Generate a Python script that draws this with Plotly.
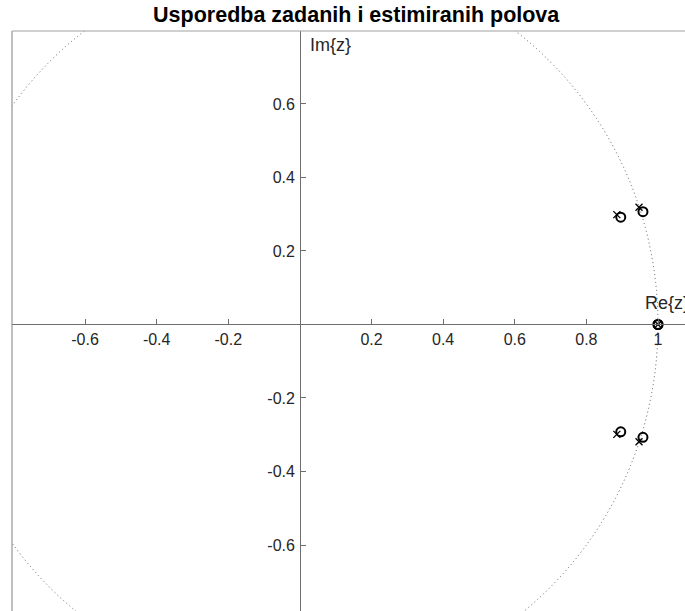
import plotly.graph_objects as go

# Given poles (x) and estimated poles (o)
poles_given_re = [0.885, 0.885, 0.947, 0.947, 1.0]
poles_given_im = [0.299, -0.299, 0.319, -0.319, 0.0]
poles_est_re = [0.896, 0.896, 0.958, 0.958, 1.0, 1.0]
poles_est_im = [0.292, -0.292, 0.307, -0.307, 0.0, 0.0]

x_ticks = [-0.6, -0.4, -0.2, 0.2, 0.4, 0.6, 0.8, 1]
x_tick_text = ["-0.6", "-0.4", "-0.2", "0.2", "0.4", "0.6", "0.8", "1"]
y_ticks = [-0.6, -0.4, -0.2, 0.2, 0.4, 0.6]
y_tick_text = ["-0.6", "-0.4", "-0.2", "0.2", "0.4", "0.6"]

x_range = [-0.804, 1.0754]
y_range = [-0.7796, 0.7986]

axis_col = "#6e6e6e"
font_col = "#262626"
FONT = "Liberation Sans, Arial, sans-serif"

fig = go.Figure()

# invisible helper trace so the label-only y axis is drawn
fig.add_trace(go.Scatter(
    x=poles_est_re, y=poles_est_im, mode="markers", yaxis="y2",
    marker=dict(size=1, opacity=0), showlegend=False, hoverinfo="skip"))

fig.add_trace(go.Scatter(
    x=poles_est_re, y=poles_est_im, mode="markers",
    marker=dict(symbol="circle-open", size=9, color="black",
                line=dict(width=2, color="black")),
    showlegend=False, hoverinfo="skip"))
fig.add_trace(go.Scatter(
    x=poles_given_re, y=poles_given_im, mode="markers",
    marker=dict(symbol="x-thin-open", size=7, color="black",
                line=dict(width=1.3, color="black")),
    showlegend=False, hoverinfo="skip"))

# unit circle
fig.add_shape(type="circle", xref="x", yref="y", x0=-1, y0=-1, x1=1, y1=1,
              line=dict(color="#5a5a5a", width=1, dash="1px,3px"), layer="below")
# box edges (left and top)
fig.add_shape(type="line", xref="paper", yref="paper", x0=0, y0=0, x1=0, y1=1,
              line=dict(color="#808080", width=1))
fig.add_shape(type="line", xref="paper", yref="paper", x0=0, y0=1, x1=1, y1=1,
              line=dict(color="#a0a0a0", width=1))

xpos = (0 - y_range[0]) / (y_range[1] - y_range[0])
ypos = (0 - x_range[0]) / (x_range[1] - x_range[0])
plot_w = 685 - 12

fig.update_layout(
    width=685, height=611,
    margin=dict(l=12, r=0, t=31, b=0),
    paper_bgcolor="white", plot_bgcolor="white",
    font=dict(family=FONT, size=16, color=font_col),
    title=dict(text="<b>Usporedba zadanih i estimiranih polova</b>",
               x=0.52, xref="container", xanchor="center",
               y=1 - 14 / 611, yref="container", yanchor="middle",
               font=dict(family=FONT, size=21.5, color="black")),
    xaxis=dict(range=x_range, anchor="free", position=xpos,
               showline=True, linecolor=axis_col, linewidth=1,
               showgrid=False, zeroline=False,
               ticks="inside", ticklen=5, tickcolor=axis_col,
               tickvals=x_ticks, ticktext=x_tick_text,
               tickfont=dict(size=16, color=font_col)),
    yaxis=dict(range=y_range, anchor="free", position=ypos,
               showline=True, linecolor=axis_col, linewidth=1,
               showgrid=False, zeroline=False,
               ticks="inside", ticklen=5, tickcolor=axis_col,
               tickvals=y_ticks, showticklabels=False),
    yaxis2=dict(range=y_range, overlaying="y", anchor="free",
                position=ypos - 5 / plot_w, side="left",
                showline=False, showgrid=False, zeroline=False, ticks="",
                tickvals=y_ticks, ticktext=y_tick_text,
                tickfont=dict(size=16, color=font_col)),
    annotations=[
        dict(text="Im{z}", x=0.022, y=0.760, xref="x", yref="y",
             xanchor="left", yanchor="middle", showarrow=False,
             font=dict(size=18, color=font_col)),
        dict(text="Re{z}", x=0.958, y=0.0585, xref="x", yref="y",
             xanchor="left", yanchor="middle", showarrow=False,
             font=dict(size=18, color=font_col)),
    ],
)

fig.write_html("out.html", config={"displayModeBar": False},
               post_script="document.body.style.margin='0';")
